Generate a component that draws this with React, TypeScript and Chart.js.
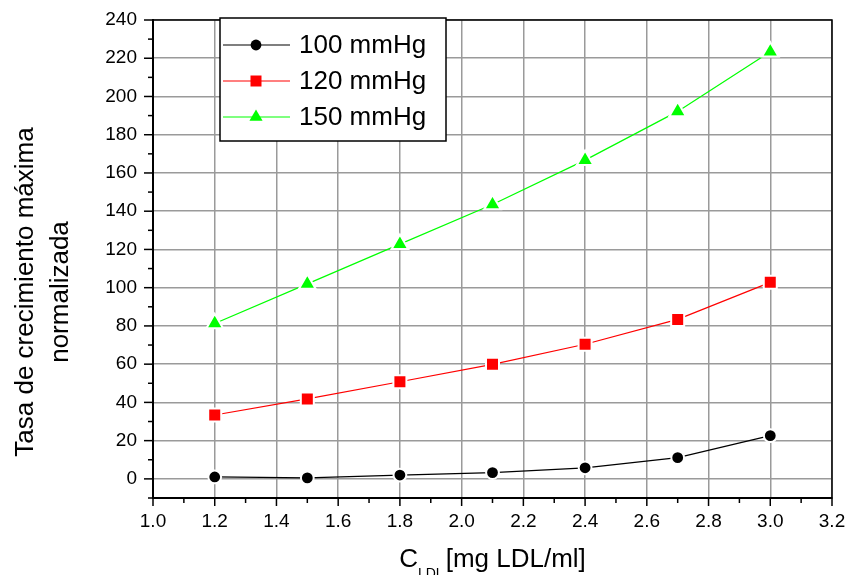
import React, { useEffect, useRef } from 'react';
import { Chart, registerables } from 'chart.js';

Chart.register(...registerables);

// ---- Data ----
const xValues = [1.2, 1.5, 1.8, 2.1, 2.4, 2.7, 3.0];
const series100 = [1.0, 0.5, 2.0, 3.3, 5.8, 11.1, 22.6];
const series120 = [33.4, 41.8, 50.8, 59.9, 70.4, 83.4, 102.8];
const series150 = [81.3, 102.0, 122.8, 143.5, 166.7, 192.2, 223.4];
const seriesLabels = ['100 mmHg', '120 mmHg', '150 mmHg'];

const xTicks = [1.0, 1.2, 1.4, 1.6, 1.8, 2.0, 2.2, 2.4, 2.6, 2.8, 3.0, 3.2];
const xMinorTicks = [1.1, 1.3, 1.5, 1.7, 1.9, 2.1, 2.3, 2.5, 2.7, 2.9, 3.1];
const yTicks = [0, 20, 40, 60, 80, 100, 120, 140, 160, 180, 200, 220, 240];
const yMinorTicks = [-10, 10, 30, 50, 70, 90, 110, 130, 150, 170, 190, 210, 230];

const yTitleLines = ['Tasa de crecimiento máxima', 'normalizada'];
const xTitleMain = 'C';
const xTitleSub = 'LDL';
const xTitleRest = '[mg LDL/ml]';

const FONT = "Arial, 'Liberation Sans', sans-serif";
const COLORS = ['#000000', '#ff0000', '#00ff00'];
const STYLES = ['circle', 'rect', 'triangle'];
const RADII = [6.4, 9.2, 9.6];

function drawMarker(ctx: CanvasRenderingContext2D, style: string, x: number, y: number, color: string) {
  ctx.fillStyle = color;
  ctx.beginPath();
  if (style === 'circle') {
    ctx.arc(x, y, 5.4, 0, Math.PI * 2);
  } else if (style === 'rect') {
    ctx.rect(x - 5.5, y - 5.5, 11, 11);
  } else {
    const r = 7.6;
    ctx.moveTo(x, y - r);
    ctx.lineTo(x + r * Math.sin(Math.PI / 3), y + r / 2);
    ctx.lineTo(x - r * Math.sin(Math.PI / 3), y + r / 2);
    ctx.closePath();
  }
  ctx.fill();
}

const decorPlugin = {
  id: 'decor',
  afterDraw(chart: any) {
    const { ctx, chartArea } = chart;
    const { left, right, top, bottom } = chartArea;
    const xs = chart.scales.x;
    const ys = chart.scales.y;
    ctx.save();
    // frame top/right
    ctx.strokeStyle = '#000';
    ctx.lineWidth = 1.5;
    ctx.beginPath();
    ctx.moveTo(left, top);
    ctx.lineTo(right, top);
    ctx.lineTo(right, bottom);
    ctx.stroke();

    // tick marks
    ctx.lineWidth = 1.5;
    const seg = (x1: number, y1: number, x2: number, y2: number) => {
      ctx.beginPath();
      ctx.moveTo(x1, y1);
      ctx.lineTo(x2, y2);
      ctx.stroke();
    };
    xTicks.forEach((v) => {
      const p = xs.getPixelForValue(v);
      seg(p, bottom, p, bottom + 8);
    });
    xMinorTicks.forEach((v) => {
      const p = xs.getPixelForValue(v);
      seg(p, bottom, p, bottom + 5);
    });
    yTicks.forEach((v) => {
      const p = ys.getPixelForValue(v);
      seg(left - 9, p, left, p);
    });
    yMinorTicks.forEach((v) => {
      const p = ys.getPixelForValue(v);
      seg(left - 5, p, left, p);
    });

    // y title
    ctx.fillStyle = '#000';
    ctx.font = `26px ${FONT}`;
    ctx.textAlign = 'center';
    ctx.textBaseline = 'alphabetic';
    const yCenter = 292;
    const baseXs = [33, 68];
    yTitleLines.forEach((line, i) => {
      ctx.save();
      ctx.translate(baseXs[i], yCenter);
      ctx.rotate(-Math.PI / 2);
      ctx.fillText(line, 0, 0);
      ctx.restore();
    });

    // x title with subscript
    ctx.textAlign = 'left';
    ctx.font = `26px ${FONT}`;
    const wC = ctx.measureText(xTitleMain).width;
    const wRest = ctx.measureText(xTitleRest).width;
    ctx.font = `14px ${FONT}`;
    const wSub = ctx.measureText(xTitleSub).width;
    const gap = 2;
    const total = wC + wSub + gap + wRest;
    const cx = (left + right) / 2;
    let x0 = cx - total / 2;
    const base = 567;
    ctx.font = `26px ${FONT}`;
    ctx.fillText(xTitleMain, x0, base);
    x0 += wC;
    ctx.font = `14px ${FONT}`;
    ctx.fillText(xTitleSub, x0, base + 11);
    x0 += wSub + gap;
    ctx.font = `26px ${FONT}`;
    ctx.fillText(xTitleRest, x0, base);

    // legend
    const lx = 220, ly = 18, lw = 226, lh = 123;
    ctx.fillStyle = '#fff';
    ctx.fillRect(lx, ly, lw, lh);
    ctx.strokeStyle = '#000';
    ctx.lineWidth = 1.5;
    ctx.strokeRect(lx, ly, lw, lh);
    const rowYs = [45, 81, 117];
    seriesLabels.forEach((label, i) => {
      const ry = rowYs[i];
      ctx.strokeStyle = COLORS[i];
      ctx.lineWidth = 1.2;
      ctx.beginPath();
      ctx.moveTo(223, ry);
      ctx.lineTo(290, ry);
      ctx.stroke();
      drawMarker(ctx, STYLES[i], 256, ry, COLORS[i]);
      ctx.fillStyle = '#000';
      ctx.font = `26px ${FONT}`;
      ctx.textAlign = 'left';
      ctx.textBaseline = 'middle';
      ctx.fillText(label, 299, ry + 1);
    });
    ctx.restore();
  },
};

export default function App() {
  const canvasRef = useRef<HTMLCanvasElement | null>(null);

  useEffect(() => {
    const canvas = canvasRef.current;
    if (!canvas) return;
    const allSeries = [series100, series120, series150];
    const chart = new Chart(canvas, {
      type: 'scatter',
      data: {
        datasets: allSeries.map((s, i) => ({
          label: seriesLabels[i],
          data: xValues.map((x, j) => ({ x, y: s[j] })),
          showLine: true,
          borderColor: COLORS[i],
          borderWidth: 1.2,
          pointStyle: STYLES[i] as any,
          pointRadius: RADII[i],
          pointBackgroundColor: COLORS[i],
          pointBorderColor: '#ffffff',
          pointBorderWidth: 2,
        })),
      },
      options: {
        responsive: false,
        animation: false,
        events: [],
        layout: { padding: { top: 20, right: 15, left: 0, bottom: 0 } },
        plugins: {
          legend: { display: false },
          tooltip: { enabled: false },
        },
        scales: {
          x: {
            type: 'linear',
            min: 1.0,
            max: 3.2,
            afterBuildTicks: (s: any) => {
              s.ticks = xTicks.map((v) => ({ value: v }));
            },
            afterFit: (s: any) => {
              s.height = 77;
              s.paddingLeft = 0;
              s.paddingRight = 0;
            },
            ticks: {
              callback: (v: any) => Number(v).toFixed(1),
              font: { family: FONT, size: 19 },
              color: '#000',
              padding: 12,
              maxRotation: 0,
              autoSkip: false,
            },
            grid: { color: '#9a9a9a', lineWidth: 1.5, drawTicks: false },
            border: { color: '#000', width: 2 },
          },
          y: {
            type: 'linear',
            min: -10,
            max: 240,
            afterBuildTicks: (s: any) => {
              s.ticks = yTicks.map((v) => ({ value: v }));
            },
            afterFit: (s: any) => {
              s.width = 153;
              s.paddingTop = 0;
              s.paddingBottom = 0;
            },
            ticks: {
              callback: (v: any) => String(v),
              font: { family: FONT, size: 19 },
              color: '#000',
              padding: 16,
              autoSkip: false,
            },
            grid: { color: '#9a9a9a', lineWidth: 1.5, drawTicks: false },
            border: { color: '#000', width: 2 },
          },
        },
      },
      plugins: [decorPlugin],
    });
    return () => chart.destroy();
  }, []);

  return (
    <div style={{ position: 'absolute', left: 0, top: 0, width: 847, height: 575, background: '#fff' }}>
      <canvas ref={canvasRef} width={847} height={575} style={{ display: 'block' }} />
    </div>
  );
}
